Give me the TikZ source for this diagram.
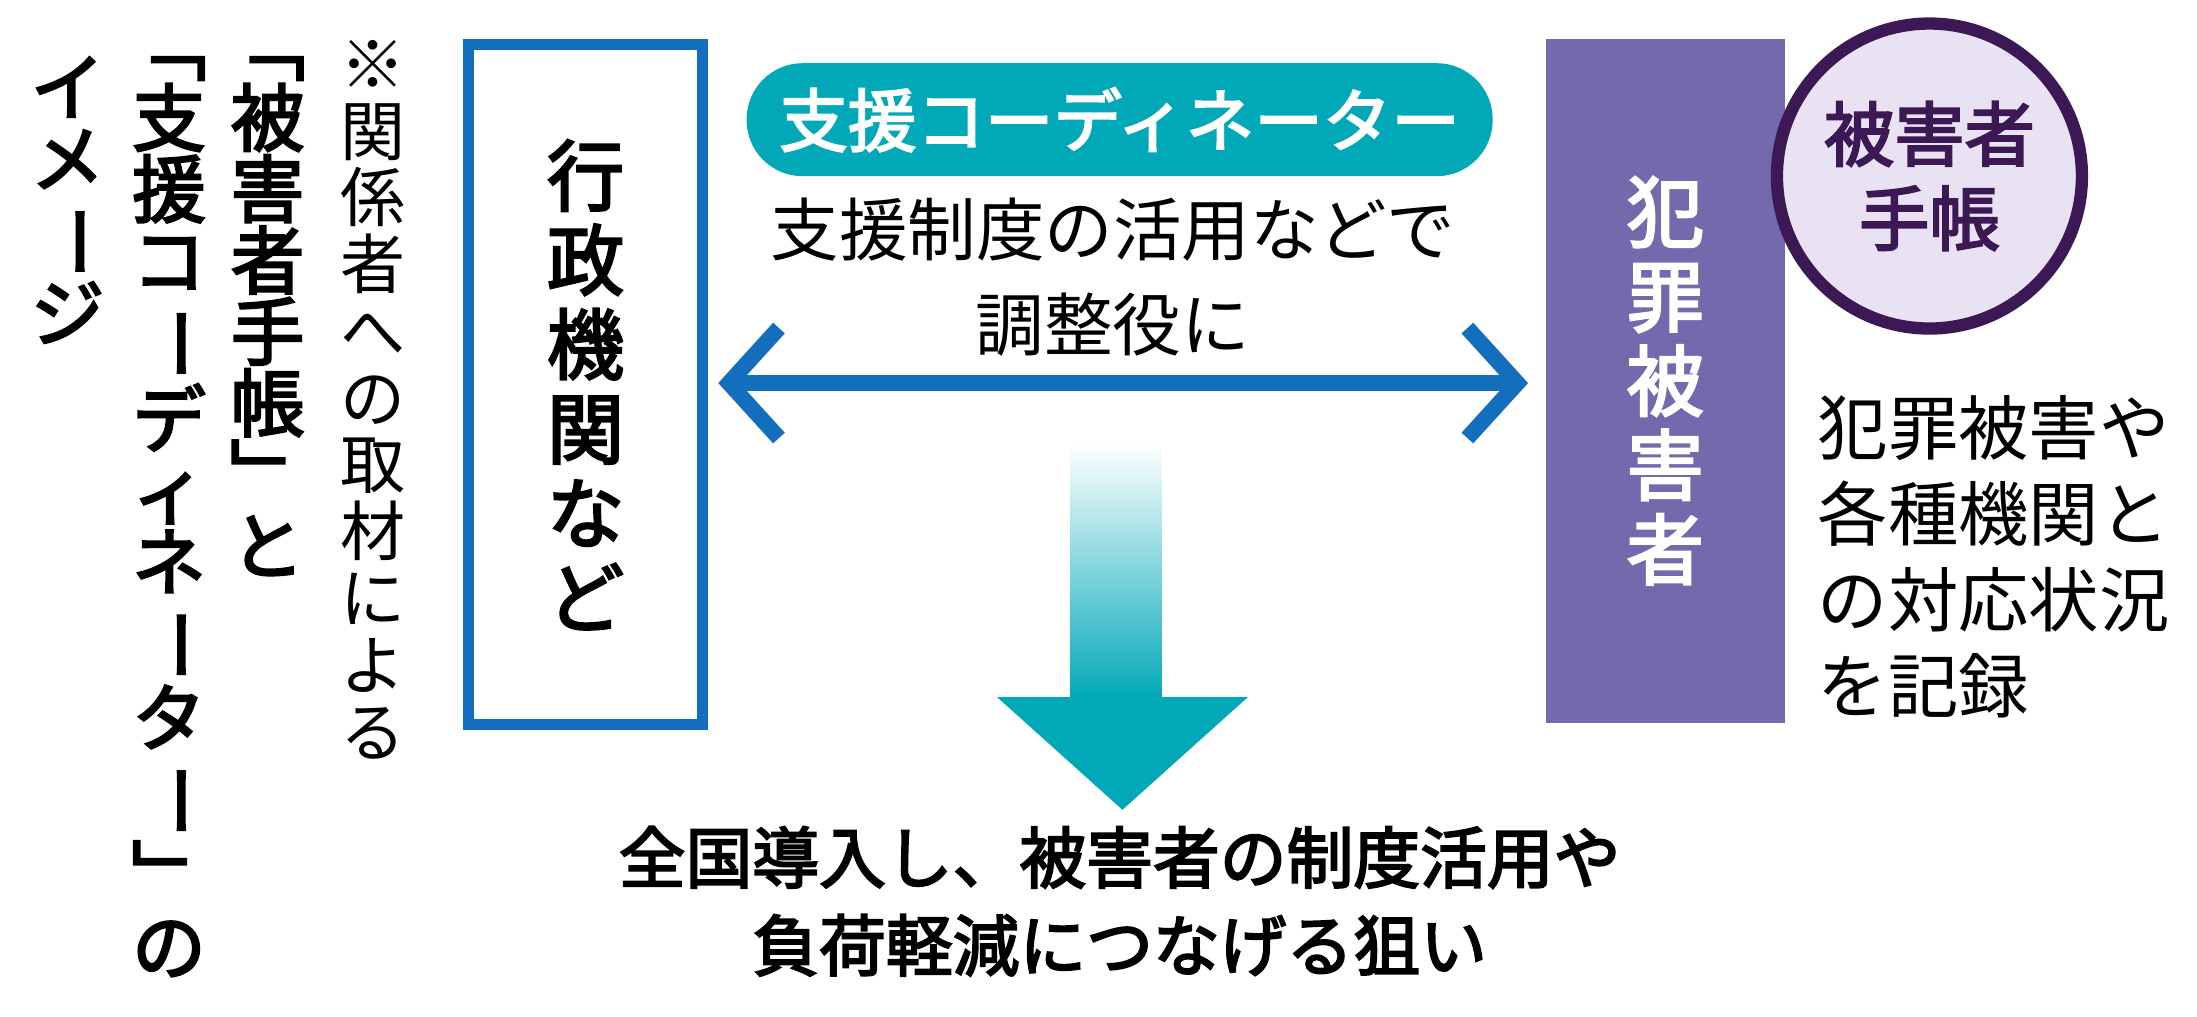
\documentclass[tikz,border=0pt]{standalone}
\usepackage{fontspec}
\setmainfont{Noto Sans CJK JP}
\newfontfamily\jpb{Noto Sans CJK JP}[FakeBold=3]
\usetikzlibrary{arrows.meta}
\definecolor{tealc}{RGB}{0,168,184}
\definecolor{bluec}{RGB}{20,110,190}
\definecolor{purc}{RGB}{115,105,172}
\definecolor{dpur}{RGB}{60,25,85}
\definecolor{lav}{RGB}{232,226,242}
\newcommand\lv{\rotatebox[origin=c]{-90}{ー}}
\tikzset{
 vt/.style={align=center,inner sep=0pt},
 ttl/.style={vt,font={\jpb\fontsize{21}{20.3}\selectfont}},
}
\begin{document}
\begin{tikzpicture}[x={(0.01408cm,0)},y={(0,-0.01408cm)}]
\useasboundingbox[fill=white] (0,0) rectangle (1560,721.6);
% left title
\node[ttl,anchor=north] (t1) at (190,40) {﹁\\被\\害\\者\\手\\帳\\﹂\\と};
\node[ttl,anchor=north] (t2) at (120,40) {﹁\\支\\援\\コ\\\lv\\デ\\ィ\\ネ\\\lv\\タ\\\lv\\﹂\\の};
\node[ttl,anchor=north] (t3) at (48,40) {イ\\メ\\\lv\\ジ};
\node[vt,anchor=north,font={\fontsize{18.5}{19}\selectfont}] (src) at (265,28) {※\\関\\係\\者\\へ\\の\\取\\材\\に\\よ\\る};
% admin box
\node[draw=bluec,line width=3pt,minimum width=2.34cm,minimum height=6.8cm,anchor=north west,inner sep=0pt] (adm) at (329,28) {};
\node[vt,font={\jpb\fontsize{22}{24}\selectfont}] (admt) at (adm.center) {行\\政\\機\\関\\な\\ど};
% victim box
\node[fill=purc,minimum width=2.39cm,minimum height=6.84cm,anchor=north west,inner sep=0pt] (vic) at (1097,27) {};
\node[vt,text=white,font={\jpb\fontsize{22}{24}\selectfont}] (vict) at (vic.center) {犯\\罪\\被\\害\\者};
% pill
\node[fill=tealc,rounded corners=0.56cm,minimum width=7.46cm,minimum height=1.13cm,text=white,font={\jpb\fontsize{19.5}{20}\selectfont}] (pill) at (795,85) {支援コーディネーター};
\node[align=center,font={\fontsize{19.5}{27}\selectfont}] (mid) at (790,197) {支援制度の活用などで\\調整役に};
% double arrow
\coordinate (al) at (510,272);
\coordinate (ar) at (1085,272);
\draw[bluec,line width=4.5pt,{Straight Barb[length=5mm,width=11mm]}-{Straight Barb[length=5mm,width=11mm]}] (al) -- (ar);
% gradient arrow
\shade[top color=white,bottom color=tealc] (760,315) rectangle (825,497);
\fill[tealc] (708,495) -- (886,495) -- (797,575) -- cycle;
\node[align=center,font={\jpb\fontsize{19}{25}\selectfont}] (res) at (795,640) {全国導入し、被害者の制度活用や\\負荷軽減につなげる狙い};
% circle
\node[circle,draw=dpur,line width=3.5pt,fill=lav,minimum size=3.05cm,align=center,text=dpur,font={\jpb\fontsize{20}{24}\selectfont}] (book) at (1370,125) {被害者\\手帳};
\node[anchor=north west,align=left,font={\fontsize{20}{24.5}\selectfont}] (rec) at (1282,272) {犯罪被害や\\各種機関と\\の対応状況\\を記録};
\end{tikzpicture}
\end{document}
